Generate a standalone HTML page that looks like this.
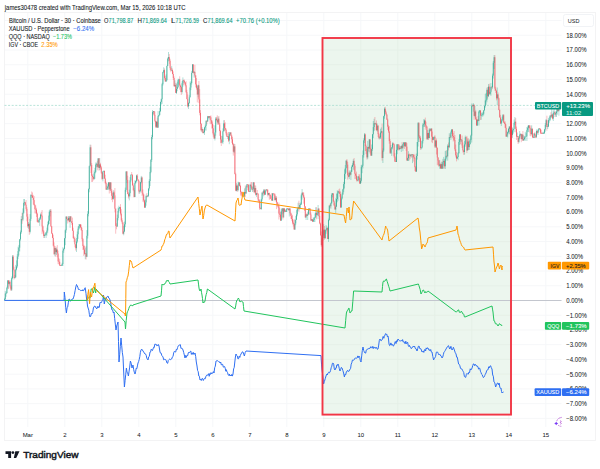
<!DOCTYPE html><html><head><meta charset="utf-8"><style>html,body{margin:0;padding:0;background:#fff;width:600px;height:469px;overflow:hidden}svg{display:block}text{font-family:"Liberation Sans",sans-serif}</style></head><body>
<svg width="600" height="469" viewBox="0 0 600 469">
<rect width="600" height="469" fill="#ffffff"/>
<path d="M4.5 418.38H561.5M4.5 403.64H561.5M4.5 388.91H561.5M4.5 374.18H561.5M4.5 359.44H561.5M4.5 344.70H561.5M4.5 329.97H561.5M4.5 315.24H561.5M4.5 300.50H561.5M4.5 285.76H561.5M4.5 271.03H561.5M4.5 256.30H561.5M4.5 241.56H561.5M4.5 226.82H561.5M4.5 212.09H561.5M4.5 197.36H561.5M4.5 182.62H561.5M4.5 167.88H561.5M4.5 153.15H561.5M4.5 138.42H561.5M4.5 123.68H561.5M4.5 108.94H561.5M4.5 94.21H561.5M4.5 79.48H561.5M4.5 64.74H561.5M4.5 50.00H561.5M4.5 35.27H561.5M4.5 20.54H561.5M27.80 12.5V427M64.80 12.5V427M101.80 12.5V427M138.80 12.5V427M175.80 12.5V427M212.80 12.5V427M249.80 12.5V427M286.80 12.5V427M323.80 12.5V427M360.80 12.5V427M397.80 12.5V427M434.80 12.5V427M471.80 12.5V427M508.80 12.5V427M545.80 12.5V427" stroke="#f6f7f9" stroke-width="1" fill="none"/>
<rect x="4.5" y="12.5" width="591" height="428" fill="none" stroke="#f2f2f3" stroke-width="0.9"/>
<rect x="322" y="37" width="190" height="378" fill="#ecf6ee"/>
<path d="M323 418.38H511M323 403.64H511M323 388.91H511M323 374.18H511M323 359.44H511M323 344.70H511M323 329.97H511M323 315.24H511M323 300.50H511M323 285.76H511M323 271.03H511M323 256.30H511M323 241.56H511M323 226.82H511M323 212.09H511M323 197.36H511M323 182.62H511M323 167.88H511M323 153.15H511M323 138.42H511M323 123.68H511M323 108.94H511M323 94.21H511M323 79.48H511M323 64.74H511M323 50.00H511M360.80 38V414M397.80 38V414M434.80 38V414M471.80 38V414" stroke="#e5efe7" stroke-width="0.9" fill="none"/>
<path d="M4.5 300.5H561.5" stroke="#c3c6ce" stroke-width="1"/>
<path d="M4.5 105.4H561.5" stroke="#a6dccf" stroke-width="0.8" stroke-dasharray="2,1.6"/>
<path d="M4.50 297.7V300.7M5.30 290.9V299.9M6.10 291.7V296.8M6.90 286.6V293.6M7.70 280.0V289.3M9.30 280.3V284.7M11.70 276.5V291.0M12.50 255.0V279.2M14.90 274.9V278.7M15.70 264.9V277.5M16.50 260.4V270.3M17.30 254.1V267.9M18.10 246.7V259.1M18.90 244.9V255.4M19.70 239.0V251.6M20.50 230.5V240.7M21.30 216.1V233.9M22.90 208.4V221.2M23.70 199.0V213.8M24.50 199.0V205.7M28.50 222.0V228.8M30.10 214.1V233.5M30.90 194.0V220.9M38.90 218.1V222.3M39.70 216.9V225.9M40.50 213.4V219.7M44.50 233.8V238.0M45.30 233.1V235.6M46.10 232.0V238.0M46.90 227.6V235.7M47.70 221.6V233.2M48.50 215.6V225.5M49.30 210.2V224.0M50.10 209.0V216.4M54.90 247.7V256.3M56.50 247.6V255.0M61.30 265.2V266.0M62.10 262.8V266.0M62.90 247.2V266.0M63.70 248.3V252.8M64.50 238.0V249.2M65.30 229.5V245.2M66.10 216.0V232.8M68.50 216.0V220.0M70.10 216.0V227.8M76.50 238.0V252.0M77.30 231.5V243.2M78.10 226.4V238.9M78.90 224.0V229.8M79.70 224.0V228.2M85.30 247.6V259.2M86.90 230.1V257.1M87.70 211.1V238.5M88.50 188.4V216.3M89.30 165.6V192.3M90.10 144.6V166.5M94.10 170.4V179.9M94.90 167.9V178.9M95.70 162.5V172.8M96.50 162.7V167.4M98.10 158.0V168.0M99.70 158.0V170.2M102.90 171.2V181.4M103.70 170.8V171.7M106.90 185.5V190.0M107.70 183.7V190.0M108.50 182.0V189.6M110.10 182.0V190.9M113.30 190.2V199.8M117.30 214.6V227.0M118.10 207.5V220.4M118.90 205.7V212.5M119.70 207.1V209.0M123.70 225.9V235.3M124.50 221.6V232.0M125.30 187.6V227.1M126.10 171.3V191.8M129.30 189.7V200.4M130.10 177.1V196.5M130.90 174.6V181.8M134.90 180.3V197.1M135.70 180.4V183.7M136.50 174.8V182.0M139.70 189.7V193.7M140.50 181.8V192.3M141.30 175.9V183.4M145.30 199.6V208.0M146.10 194.6V205.7M147.70 195.0V196.6M148.50 188.4V196.8M149.30 179.2V190.6M150.10 166.6V186.0M150.90 159.0V173.2M151.70 134.9V161.9M152.50 110.0V139.2M153.30 111.1V114.1M156.50 121.6V128.0M158.10 111.1V128.0M158.90 114.9V116.9M159.70 107.8V115.2M160.50 101.7V112.0M161.30 98.5V104.6M162.10 82.8V103.9M162.90 71.7V85.6M163.70 67.3V73.1M166.10 74.4V82.0M166.90 65.5V81.2M167.70 57.5V66.1M168.50 52.0V61.3M171.70 65.9V70.7M174.90 80.3V87.1M176.50 83.6V94.0M177.30 81.7V91.2M178.10 78.7V88.0M178.90 78.8V84.5M182.10 81.2V93.6M182.90 77.4V86.7M188.50 102.4V109.0M189.30 95.3V104.1M190.10 81.6V97.4M190.90 81.4V90.2M191.70 70.9V84.5M192.50 64.0V72.8M194.10 71.0V77.7M198.10 84.6V97.3M202.10 127.2V132.4M203.70 130.8V133.4M204.50 127.0V135.0M205.30 124.5V130.4M206.10 120.1V130.6M207.70 115.9V121.5M209.30 116.0V119.6M214.90 125.3V140.5M215.70 117.1V135.7M218.10 116.6V124.2M222.10 136.1V142.7M222.90 128.4V144.1M223.70 120.2V131.6M227.70 136.2V139.0M229.30 132.0V144.2M230.10 132.4V135.7M234.10 143.8V153.0M236.50 183.2V191.3M238.10 181.6V191.4M238.90 182.0V185.9M243.70 193.2V197.0M244.50 188.4V197.0M246.10 185.9V193.8M246.90 184.0V187.6M250.10 184.0V192.0M252.50 186.7V192.0M253.30 182.0V190.4M254.90 185.3V193.4M256.50 192.8V196.9M261.30 198.6V210.0M262.10 191.9V201.2M263.70 189.0V196.4M265.30 190.4V195.0M266.10 189.0V191.0M268.50 193.1V195.5M272.50 193.0V201.0M275.70 195.9V201.4M281.30 209.2V221.0M282.10 208.0V214.3M283.70 208.0V213.3M286.10 209.0V212.0M286.90 208.0V212.0M289.30 208.0V216.5M294.90 219.9V230.0M295.70 215.9V225.3M296.50 210.1V220.0M297.30 207.8V216.3M298.10 202.7V210.7M299.70 203.2V209.5M300.50 202.5V208.8M301.30 193.7V205.0M302.10 189.0V199.6M306.10 214.2V220.0M307.70 211.8V220.0M308.50 208.0V214.9M309.30 208.0V210.4M311.70 219.0V220.8M313.30 217.3V222.0M314.10 217.7V222.0M314.90 213.5V222.0M315.70 207.2V218.0M317.30 211.1V215.9M318.10 205.0V219.2M322.10 234.6V246.7M322.90 231.3V240.9M323.70 224.1V237.9M325.30 229.5V238.7M326.10 225.1V233.8M326.90 226.4V231.4M328.50 218.6V241.9M329.30 205.3V220.9M330.90 202.4V208.7M331.70 193.0V203.8M332.50 193.0V197.3M335.70 198.3V213.0M336.50 193.7V206.9M337.30 190.3V202.3M338.10 190.8V200.7M341.30 196.6V208.0M342.10 192.6V199.5M342.90 188.8V194.8M343.70 181.9V192.2M344.50 169.4V188.4M345.30 165.0V178.9M346.10 160.5V172.7M349.30 170.4V179.1M350.90 170.1V180.0M351.70 165.4V171.9M352.50 163.2V167.1M353.30 159.2V169.7M358.10 176.0V181.8M360.50 178.1V184.0M361.30 164.9V182.7M362.10 164.7V173.2M362.90 150.5V168.5M363.70 138.3V157.6M364.50 133.0V143.0M367.70 140.9V159.2M369.30 139.0V152.2M371.70 144.5V156.0M372.50 134.0V150.9M373.30 121.0V138.2M374.10 118.8V131.1M375.70 122.8V124.6M377.30 123.5V131.7M379.70 135.9V139.4M380.50 128.8V139.0M381.30 127.4V133.3M382.90 148.3V163.0M383.70 115.7V152.1M384.50 107.3V118.7M390.90 145.0V154.0M391.70 147.1V155.9M392.50 142.3V149.3M396.50 144.3V162.0M397.30 144.0V154.2M399.70 146.2V150.3M401.30 145.6V152.0M402.90 143.6V151.2M403.70 142.0V146.6M405.30 142.0V146.9M407.70 157.7V161.0M408.50 151.2V161.0M410.90 154.0V157.2M412.50 154.4V163.1M416.50 153.6V172.0M417.30 142.0V159.6M418.10 122.0V146.5M421.30 147.4V149.5M422.10 140.4V148.5M422.90 123.0V143.5M423.70 119.2V126.8M424.50 119.4V126.9M427.70 130.1V140.0M429.30 128.0V138.4M430.90 128.3V131.0M433.30 136.9V140.3M434.10 136.6V139.2M435.70 140.3V147.9M439.70 159.9V168.8M441.30 162.1V169.0M442.90 158.9V169.0M443.70 156.9V165.6M445.30 151.0V169.0M446.10 150.4V160.6M447.70 144.2V160.7M449.30 133.2V148.1M450.90 130.6V140.0M451.70 129.0V133.9M457.30 156.5V158.7M458.10 152.3V160.2M458.90 139.1V153.5M459.70 134.0V145.0M461.30 139.0V142.1M464.50 141.1V154.7M465.30 135.6V146.7M467.70 139.4V150.0M469.30 140.8V150.0M470.10 138.9V144.6M470.90 134.7V140.2M471.70 103.5V142.6M473.30 103.0V111.7M474.90 105.7V117.3M477.30 119.5V126.0M478.90 110.5V125.5M479.70 110.0V113.2M481.30 112.8V119.8M482.10 112.5V116.7M482.90 112.2V116.4M483.70 110.2V115.4M484.50 105.7V110.7M485.30 93.9V107.7M486.10 92.9V104.8M486.90 87.7V102.3M488.50 84.1V97.0M490.10 91.9V94.8M490.90 83.1V95.8M492.50 73.6V88.8M493.30 61.0V78.6M494.10 55.0V69.0M497.30 87.5V105.2M501.30 118.9V126.0M502.10 116.7V122.5M502.90 114.0V120.4M506.90 130.7V136.8M507.70 131.8V137.5M508.50 128.0V133.1M509.30 126.0V134.0M512.50 127.5V137.9M513.30 128.8V133.7M514.10 119.5V132.2M514.90 117.0V124.9M517.30 132.5V137.0M518.90 137.5V143.2M519.70 131.0V139.4M520.50 133.4V136.4M522.10 134.1V140.3M523.70 135.4V140.6M524.50 136.0V140.3M525.30 131.8V140.8M526.10 133.2V136.8M526.90 127.0V141.0M527.70 125.7V132.2M528.50 125.0V132.1M531.70 125.2V135.3M534.10 133.3V138.0M536.50 129.5V136.3M538.10 128.9V135.0M538.90 128.0V131.6M542.90 131.8V134.0M543.70 131.8V134.0M544.50 128.9V134.0M545.30 123.0V131.7M546.10 119.0V126.8M547.70 123.9V129.0M548.50 118.1V127.1M549.30 116.7V122.8M550.10 115.3V121.1M551.70 108.0V118.1M553.30 110.6V121.0M554.10 108.0V114.8M555.70 111.6V116.7M556.50 108.0V117.0M557.30 108.0V114.7M558.90 108.0V115.7" stroke="#089981" stroke-width="0.5" fill="none" stroke-opacity="0.62"/>
<path d="M8.50 280.0V289.0M10.10 280.2V288.4M10.90 285.3V291.0M13.30 255.0V270.4M14.10 266.7V279.5M22.10 212.9V223.8M25.30 201.8V205.5M26.10 200.0V210.7M26.90 207.2V221.3M27.70 213.8V227.9M29.30 223.4V234.9M31.70 191.5V197.6M32.50 192.5V197.8M33.30 194.9V204.5M34.10 196.0V205.5M34.90 204.2V213.4M35.70 205.4V213.5M36.50 207.8V217.0M37.30 212.6V222.2M38.10 220.1V222.8M41.30 211.9V216.6M42.10 210.0V234.1M42.90 225.6V232.6M43.70 230.1V238.0M50.90 209.0V226.9M51.70 225.9V234.1M52.50 233.1V238.2M53.30 234.7V246.6M54.10 242.3V254.7M55.70 246.2V256.7M57.30 245.1V257.3M58.10 250.7V264.2M58.90 257.9V264.2M59.70 259.2V266.0M60.50 265.0V266.0M66.90 216.0V219.0M67.70 218.7V223.5M69.30 216.0V222.4M70.90 216.0V221.2M71.70 221.1V224.8M72.50 217.6V230.8M73.30 227.7V238.6M74.10 236.3V242.2M74.90 237.2V247.3M75.70 244.2V250.6M80.50 224.0V228.0M81.30 224.5V230.9M82.10 227.7V241.3M82.90 238.1V250.0M83.70 244.7V255.9M84.50 245.7V254.8M86.10 246.2V259.5M90.90 144.8V173.0M91.70 163.1V182.0M92.50 174.3V181.9M93.30 176.7V180.5M97.30 160.8V170.3M98.90 158.0V170.6M100.50 162.8V169.5M101.30 165.9V173.9M102.10 172.1V179.9M104.50 170.8V179.0M105.30 174.7V184.2M106.10 181.6V190.0M109.30 182.0V193.5M110.90 182.0V192.9M111.70 189.0V200.0M112.50 192.8V202.2M114.10 190.6V198.1M114.90 188.0V212.4M115.70 208.4V233.7M116.50 223.3V229.3M120.50 204.1V215.4M121.30 209.2V221.6M122.10 218.3V224.1M122.90 222.3V234.4M126.90 171.0V183.1M127.70 175.7V194.2M128.50 192.2V198.5M131.70 172.0V175.2M132.50 174.2V185.6M133.30 183.3V191.2M134.10 188.1V197.5M137.30 174.0V179.6M138.10 179.0V181.3M138.90 180.3V193.7M142.10 176.6V196.0M142.90 189.4V201.8M143.70 193.9V202.4M144.50 199.6V208.0M146.90 193.0V197.3M154.10 111.0V115.8M154.90 111.5V122.3M155.70 120.8V128.0M157.30 117.6V128.0M164.50 68.5V79.6M165.30 75.8V81.5M169.30 54.0V63.9M170.10 58.8V70.1M170.90 67.2V72.2M172.50 68.5V74.3M173.30 71.4V80.0M174.10 76.4V86.6M175.70 82.9V92.9M179.70 76.3V89.7M180.50 84.6V92.2M181.30 86.4V95.0M183.70 79.7V85.1M184.50 79.6V83.8M185.30 82.1V86.4M186.10 81.1V93.2M186.90 89.8V99.3M187.70 94.5V107.5M193.30 64.0V73.6M194.90 64.8V77.4M195.70 75.0V87.4M196.50 78.0V89.6M197.30 85.9V102.4M198.90 81.0V103.1M199.70 89.1V115.3M200.50 110.1V130.3M201.30 123.1V131.9M202.90 128.9V133.5M206.90 120.1V124.3M208.50 116.2V118.4M210.10 116.1V123.7M210.90 115.3V124.3M211.70 120.0V128.5M212.50 121.5V133.3M213.30 124.6V136.7M214.10 134.3V138.9M216.50 116.9V120.8M217.30 115.3V124.8M218.90 116.1V124.7M219.70 122.9V135.9M220.50 130.0V143.2M221.30 135.7V146.0M224.50 120.1V131.2M225.30 122.3V130.5M226.10 128.4V135.4M226.90 132.1V136.9M228.50 132.0V142.0M230.90 132.0V135.7M231.70 134.7V142.9M232.50 136.9V144.9M233.30 142.9V155.6M234.90 144.0V174.4M235.70 172.7V191.2M237.30 184.3V191.8M239.70 182.0V186.7M240.50 184.9V195.5M241.30 191.3V196.6M242.10 192.7V196.4M242.90 191.5V197.0M245.30 185.4V197.0M247.70 184.0V190.2M248.50 184.0V191.9M249.30 191.1V192.0M250.90 182.2V187.7M251.70 182.0V190.3M254.10 182.0V193.1M255.70 185.6V195.6M257.30 190.0V194.7M258.10 193.1V202.3M258.90 199.0V202.7M259.70 200.0V210.0M260.50 207.5V209.0M262.90 191.1V195.2M264.50 189.0V195.2M266.90 189.3V192.2M267.70 189.0V196.5M269.30 192.6V199.8M270.10 194.6V199.1M270.90 194.7V199.2M271.70 193.0V201.0M273.30 193.1V195.6M274.10 193.0V201.2M274.90 193.4V200.0M276.50 196.2V209.1M277.30 201.7V206.8M278.10 204.4V208.1M278.90 202.5V219.5M279.70 207.8V217.2M280.50 211.9V221.0M282.90 208.0V219.5M284.50 208.3V212.0M285.30 209.8V212.0M287.70 208.0V209.1M288.50 208.0V210.5M290.10 208.0V214.7M290.90 212.6V218.8M291.70 213.8V220.8M292.50 215.1V224.4M293.30 220.2V226.5M294.10 218.8V229.6M298.90 200.7V211.8M302.90 192.0V196.6M303.70 192.5V203.7M304.50 196.7V211.0M305.30 206.2V217.6M306.90 213.0V215.9M310.10 208.0V215.0M310.90 212.5V221.1M312.50 219.1V222.0M316.50 207.2V219.3M318.90 208.2V216.5M319.70 211.7V224.4M320.50 222.6V235.5M321.30 231.4V246.7M324.50 226.0V239.8M327.70 227.3V239.1M330.10 203.8V208.1M333.30 193.0V201.9M334.10 200.4V206.0M334.90 203.2V209.5M338.90 189.3V192.9M339.70 188.5V196.7M340.50 191.4V208.0M346.90 159.0V167.8M347.70 162.0V179.6M348.50 172.6V177.3M350.10 171.3V175.6M354.10 158.0V170.4M354.90 164.1V179.1M355.70 173.4V178.8M356.50 171.6V181.5M357.30 179.3V181.1M358.90 174.2V180.1M359.70 174.4V184.0M365.30 133.5V150.9M366.10 144.6V154.1M366.90 149.0V159.5M368.50 146.6V151.5M370.10 139.0V153.5M370.90 147.7V156.0M374.90 117.0V130.2M376.50 120.5V130.6M378.10 124.9V137.0M378.90 132.8V139.2M382.10 123.5V160.6M385.30 106.8V114.1M386.10 110.7V115.4M386.90 114.4V120.0M387.70 118.5V129.9M388.50 124.8V132.9M389.30 126.1V143.7M390.10 139.1V154.0M393.30 142.5V144.9M394.10 143.4V157.6M394.90 153.2V162.0M395.70 157.4V162.0M398.10 144.0V150.8M398.90 144.0V150.0M400.50 146.2V148.9M402.10 142.0V148.6M404.50 142.2V148.9M406.10 142.0V150.8M406.90 143.2V160.7M409.30 153.5V160.5M410.10 154.6V159.2M411.70 154.0V157.7M413.30 154.0V161.6M414.10 154.9V158.9M414.90 154.2V171.1M415.70 166.0V172.0M418.90 122.0V139.6M419.70 135.1V142.0M420.50 136.3V149.8M425.30 117.6V129.7M426.10 121.7V127.9M426.90 126.2V140.0M428.50 132.7V140.0M430.10 128.8V131.9M431.70 128.4V142.3M432.50 131.5V143.1M434.90 135.2V148.0M436.50 138.5V154.5M437.30 147.5V165.3M438.10 157.1V164.8M438.90 160.0V166.9M440.50 163.4V168.6M442.10 160.8V169.0M444.50 159.1V168.6M446.90 150.2V157.1M448.50 142.5V150.4M450.10 134.6V137.5M452.50 129.0V138.2M453.30 132.8V141.5M454.10 131.0V140.8M454.90 135.0V151.1M455.70 144.6V157.4M456.50 151.9V161.4M460.50 134.0V144.2M462.10 135.5V148.0M462.90 142.5V152.5M463.70 149.7V154.9M466.10 136.7V137.9M466.90 135.9V153.0M468.50 138.4V150.0M472.50 104.7V106.7M474.10 104.6V119.8M475.70 109.9V119.8M476.50 117.3V125.6M478.10 115.9V121.4M480.50 110.3V120.0M487.70 87.0V98.5M489.30 83.7V94.9M491.70 86.5V90.4M494.90 55.0V90.8M495.70 86.8V93.0M496.50 90.5V100.4M498.10 92.4V99.7M498.90 97.6V110.3M499.70 109.4V117.5M500.50 114.9V123.7M503.70 114.0V123.1M504.50 121.5V124.2M505.30 121.4V128.1M506.10 124.3V137.0M510.10 126.7V134.8M510.90 130.2V135.5M511.70 128.6V136.2M515.70 118.1V132.3M516.50 126.6V140.0M518.10 136.0V144.0M521.30 133.5V142.2M522.90 131.0V141.0M529.30 125.0V128.4M530.10 125.0V135.9M530.90 126.3V136.4M532.50 128.9V137.5M533.30 135.6V138.0M534.90 131.9V135.6M535.70 134.4V138.0M537.30 130.5V134.3M539.70 128.0V129.6M540.50 128.5V134.0M541.30 129.7V134.0M542.10 132.5V134.0M546.90 115.7V130.7M550.90 112.2V117.8M552.50 113.9V119.5M554.90 111.0V117.0M558.10 108.0V111.4" stroke="#f23645" stroke-width="0.5" fill="none" stroke-opacity="0.62"/>
<path d="M4.50 299.2V300.0M5.30 293.7V299.2M6.10 293.0V293.7M6.90 287.7V293.0M7.70 280.5V287.7M9.30 281.8V283.8M11.70 278.2V289.7M12.50 256.6V278.2M14.90 277.4V278.0M15.70 269.4V277.4M16.50 266.4V269.4M17.30 256.6V266.4M18.10 251.1V256.6M18.90 247.7V251.1M19.70 239.3V247.7M20.50 232.3V239.3M21.30 219.0V232.3M22.90 212.7V219.5M23.70 202.8V212.7M24.50 202.3V202.8M28.50 223.9V226.3M30.10 218.9V231.8M30.90 195.0V218.9M38.90 219.8V222.3M39.70 218.6V219.8M40.50 214.6V218.6M44.50 235.3V236.0M45.30 234.8V235.3M46.10 232.2V234.8M46.90 230.6V232.2M47.70 224.4V230.6M48.50 220.7V224.4M49.30 212.1V220.7M50.10 210.7V212.1M54.90 248.1V254.2M56.50 249.5V252.1M61.30 265.5V266.0M62.10 264.0V265.5M62.90 250.6V264.0M63.70 248.8V250.6M64.50 238.3V248.8M65.30 230.3V238.3M66.10 216.8V230.3M68.50 217.8V220.5M70.10 216.5V221.9M76.50 241.5V248.2M77.30 234.3V241.5M78.10 228.7V234.3M78.90 226.2V228.7M79.70 224.5V226.2M85.30 253.4V253.9M86.90 235.8V256.7M87.70 213.8V235.8M88.50 189.2V213.8M89.30 166.2V189.2M90.10 147.3V166.2M94.10 173.5V178.9M94.90 171.9V173.5M95.70 164.5V171.9M96.50 163.9V164.5M98.10 158.5V166.8M99.70 164.4V168.0M102.90 171.4V178.9M103.70 170.8V171.4M106.90 188.4V189.5M107.70 186.5V188.4M108.50 182.5V186.5M110.10 182.5V189.4M113.30 192.4V198.9M117.30 218.1V226.4M118.10 210.9V218.1M118.90 208.3V210.9M119.70 207.2V208.3M123.70 231.4V233.7M124.50 224.3V231.4M125.30 189.9V224.3M126.10 171.5V189.9M129.30 193.2V196.4M130.10 180.3V193.2M130.90 174.6V180.3M134.90 183.2V197.0M135.70 181.0V183.2M136.50 175.5V181.0M139.70 190.8V191.5M140.50 182.2V190.8M141.30 177.5V182.2M145.30 202.4V207.5M146.10 196.1V202.4M147.70 195.7V196.6M148.50 188.5V195.7M149.30 181.0V188.5M150.10 171.9V181.0M150.90 159.9V171.9M151.70 137.0V159.9M152.50 112.1V137.0M153.30 111.1V112.1M156.50 121.7V126.8M158.10 116.0V127.5M158.90 115.1V116.0M159.70 111.1V115.1M160.50 101.9V111.1M161.30 99.2V101.9M162.10 84.2V99.2M162.90 72.1V84.2M163.70 70.1V72.1M166.10 80.0V81.5M166.90 66.0V80.0M167.70 58.6V66.0M168.50 57.1V58.6M171.70 70.1V70.6M174.90 84.9V86.2M176.50 89.0V92.9M177.30 86.9V89.0M178.10 80.0V86.9M178.90 79.4V80.0M182.10 83.2V92.0M182.90 80.4V83.2M188.50 103.0V106.4M189.30 97.3V103.0M190.10 87.5V97.3M190.90 83.0V87.5M191.70 72.8V83.0M192.50 64.5V72.8M194.10 71.9V72.7M198.10 85.3V94.5M202.10 129.1V130.4M203.70 132.2V133.0M204.50 127.5V132.2M205.30 125.9V127.5M206.10 121.1V125.9M207.70 116.3V121.6M209.30 116.3V117.6M214.90 132.5V138.5M215.70 118.6V132.5M218.10 118.7V122.5M222.10 142.1V142.6M222.90 131.3V142.1M223.70 123.4V131.3M227.70 136.3V136.8M229.30 134.1V140.6M230.10 132.5V134.1M234.10 146.4V151.7M236.50 185.6V190.7M238.10 185.7V190.2M238.90 182.6V185.7M243.70 195.8V196.3M244.50 192.0V195.8M246.10 187.4V193.5M246.90 184.5V187.4M250.10 184.8V192.0M252.50 188.9V189.4M253.30 182.5V188.9M254.90 188.0V192.1M256.50 193.3V194.8M261.30 199.4V209.0M262.10 192.8V199.4M263.70 190.4V193.3M265.30 190.5V194.6M266.10 189.5V190.5M268.50 193.1V194.7M272.50 193.5V200.5M275.70 197.8V200.0M281.30 211.3V220.5M282.10 208.5V211.3M283.70 208.5V217.5M286.10 210.0V212.0M286.90 208.5V210.0M289.30 208.6V210.2M294.90 223.4V229.5M295.70 219.7V223.4M296.50 214.4V219.7M297.30 208.8V214.4M298.10 207.2V208.8M299.70 205.0V208.3M300.50 204.4V205.0M301.30 195.3V204.4M302.10 192.7V195.3M306.10 214.4V217.5M307.70 214.3V215.8M308.50 209.4V214.3M309.30 208.7V209.4M311.70 219.4V220.6M313.30 219.9V221.5M314.10 218.2V219.9M314.90 216.9V218.2M315.70 212.8V216.9M317.30 213.4V214.8M318.10 208.6V213.4M322.10 238.2V245.1M322.90 235.5V238.2M323.70 229.7V235.5M325.30 230.1V238.2M326.10 229.6V230.1M326.90 228.1V229.6M328.50 220.0V239.0M329.30 205.6V220.0M330.90 203.2V206.2M331.70 194.6V203.2M332.50 193.5V194.6M335.70 206.6V209.5M336.50 199.1V206.6M337.30 193.5V199.1M338.10 191.3V193.5M341.30 198.5V207.3M342.10 194.4V198.5M342.90 189.4V194.4M343.70 184.1V189.4M344.50 173.9V184.1M345.30 168.3V173.9M346.10 160.6V168.3M349.30 172.7V176.7M350.90 171.8V174.7M351.70 166.8V171.8M352.50 164.9V166.8M353.30 160.9V164.9M358.10 176.5V180.6M360.50 180.8V183.5M361.30 167.1V180.8M362.10 165.7V167.1M362.90 155.1V165.7M363.70 140.4V155.1M364.50 134.4V140.4M367.70 147.1V157.4M369.30 139.5V148.5M371.70 149.1V155.5M372.50 134.3V149.1M373.30 127.1V134.3M374.10 123.2V127.1M375.70 123.6V124.2M377.30 125.7V130.3M379.70 137.5V138.1M380.50 132.6V137.5M381.30 131.2V132.6M382.90 150.6V158.0M383.70 116.2V150.6M384.50 108.7V116.2M390.90 148.6V152.8M391.70 147.5V148.6M392.50 143.5V147.5M396.50 149.9V162.0M397.30 144.5V149.9M399.70 147.9V149.2M401.30 145.8V148.5M402.90 144.4V148.3M403.70 142.5V144.4M405.30 142.5V146.2M407.70 158.1V160.5M408.50 154.4V158.1M410.90 154.5V156.1M412.50 154.5V155.0M416.50 156.0V171.5M417.30 142.0V156.0M418.10 123.1V142.0M421.30 147.5V148.1M422.10 141.1V147.5M422.90 124.6V141.1M423.70 123.9V124.6M424.50 120.5V123.9M427.70 133.0V138.8M429.30 129.5V138.0M430.90 128.6V130.6M433.30 137.3V139.9M434.10 136.8V137.3M435.70 140.5V146.6M439.70 164.4V165.8M441.30 164.1V168.5M442.90 162.2V168.5M443.70 160.9V162.2M445.30 158.6V166.3M446.10 155.8V158.6M447.70 145.7V156.3M449.30 137.0V147.2M450.90 132.4V137.5M451.70 129.5V132.4M457.30 157.0V158.6M458.10 153.2V157.0M458.90 142.0V153.2M459.70 134.5V142.0M461.30 139.7V140.2M464.50 144.4V152.0M465.30 137.3V144.4M467.70 141.5V150.6M469.30 144.1V147.1M470.10 139.7V144.1M470.90 135.6V139.7M471.70 105.6V135.6M473.30 104.7V106.1M474.90 111.5V115.9M477.30 119.6V125.5M478.90 111.6V120.9M479.70 110.5V111.6M481.30 115.1V115.6M482.10 114.6V115.1M482.90 113.7V114.6M483.70 110.3V113.7M484.50 106.1V110.3M485.30 100.6V106.1M486.10 99.8V100.6M486.90 89.8V99.8M488.50 86.7V96.2M490.10 92.1V93.8M490.90 86.8V92.1M492.50 75.6V87.3M493.30 62.8V75.6M494.10 57.2V62.8M497.30 94.4V98.3M501.30 120.7V123.6M502.10 119.7V120.7M502.90 115.2V119.7M506.90 134.4V136.5M507.70 132.1V134.4M508.50 129.0V132.1M509.30 126.7V129.0M512.50 130.3V134.9M513.30 128.9V130.3M514.10 122.9V128.9M514.90 121.7V122.9M517.30 136.1V136.6M518.90 138.1V141.9M519.70 134.5V138.1M520.50 134.0V134.5M522.10 134.5V139.0M523.70 139.0V140.5M524.50 137.5V139.0M525.30 136.8V137.5M526.10 136.3V136.8M526.90 130.2V136.3M527.70 127.7V130.2M528.50 125.5V127.7M531.70 128.6V134.1M534.10 133.5V138.0M536.50 131.1V137.5M538.10 129.9V132.8M538.90 128.5V129.9M542.90 133.5V134.0M543.70 132.9V133.5M544.50 129.5V132.9M545.30 124.9V129.5M546.10 120.2V124.9M547.70 126.5V127.0M548.50 120.2V126.5M549.30 119.7V120.2M550.10 115.5V119.7M551.70 114.6V116.6M553.30 113.0V118.6M554.10 112.3V113.0M555.70 113.2V114.5M556.50 111.5V113.2M557.30 108.9V111.5M558.90 108.5V111.2" stroke="#089981" stroke-width="0.95" fill="none" stroke-opacity="0.62"/>
<path d="M8.50 280.5V283.8M10.10 281.8V286.4M10.90 286.4V289.7M13.30 256.6V269.6M14.10 269.6V278.0M22.10 219.0V219.5M25.30 202.3V204.7M26.10 204.7V208.9M26.90 208.9V216.6M27.70 216.6V226.3M29.30 223.9V231.8M31.70 195.0V195.6M32.50 195.6V197.8M33.30 197.8V200.1M34.10 200.1V205.1M34.90 205.1V209.2M35.70 209.2V209.7M36.50 209.7V213.6M37.30 213.6V221.8M38.10 221.8V222.3M41.30 214.6V215.6M42.10 215.6V226.4M42.90 226.4V231.4M43.70 231.4V236.0M50.90 210.7V226.3M51.70 226.3V233.5M52.50 233.5V237.9M53.30 237.9V245.7M54.10 245.7V254.2M55.70 248.1V252.1M57.30 249.5V253.5M58.10 253.5V261.4M58.90 261.4V261.9M59.70 261.9V265.5M60.50 265.5V266.0M66.90 216.8V219.0M67.70 219.0V220.5M69.30 217.8V221.9M70.90 216.5V221.2M71.70 221.2V223.0M72.50 223.0V230.7M73.30 230.7V238.0M74.10 238.0V239.0M74.90 239.0V244.3M75.70 244.3V248.2M80.50 224.5V227.2M81.30 227.2V230.0M82.10 230.0V239.1M82.90 239.1V246.0M83.70 246.0V249.6M84.50 249.6V253.9M86.10 253.4V256.7M90.90 147.3V165.0M91.70 165.0V175.8M92.50 175.8V176.9M93.30 176.9V178.9M97.30 163.9V166.8M98.90 158.5V168.0M100.50 164.4V167.3M101.30 167.3V172.7M102.10 172.7V178.9M104.50 170.8V178.5M105.30 178.5V182.9M106.10 182.9V189.5M109.30 182.5V189.4M110.90 182.5V190.8M111.70 190.8V195.8M112.50 195.8V198.9M114.10 192.4V195.4M114.90 195.4V208.7M115.70 208.7V225.9M116.50 225.9V226.4M120.50 207.2V213.6M121.30 213.6V220.3M122.10 220.3V222.4M122.90 222.4V233.7M126.90 171.5V179.9M127.70 179.9V194.1M128.50 194.1V196.4M131.70 174.6V175.1M132.50 175.1V185.4M133.30 185.4V190.1M134.10 190.1V197.0M137.30 175.5V179.5M138.10 179.5V181.1M138.90 181.1V191.5M142.10 177.5V192.7M142.90 192.7V194.6M143.70 194.6V200.5M144.50 200.5V207.5M146.90 196.1V196.6M154.10 111.1V114.9M154.90 114.9V120.8M155.70 120.8V126.8M157.30 121.7V127.5M164.50 70.1V77.9M165.30 77.9V81.5M169.30 57.1V60.7M170.10 60.7V68.1M170.90 68.1V70.6M172.50 70.1V74.0M173.30 74.0V78.0M174.10 78.0V86.2M175.70 84.9V92.9M179.70 79.4V85.6M180.50 85.6V87.2M181.30 87.2V92.0M183.70 80.4V81.2M184.50 81.2V82.4M185.30 82.4V85.3M186.10 85.3V92.1M186.90 92.1V99.1M187.70 99.1V106.4M193.30 64.5V72.7M194.90 71.9V75.5M195.70 75.5V84.4M196.50 84.4V87.8M197.30 87.8V94.5M198.90 85.3V99.4M199.70 99.4V112.9M200.50 112.9V123.9M201.30 123.9V130.4M202.90 129.1V133.0M206.90 121.1V121.6M208.50 116.3V117.6M210.10 116.3V117.3M210.90 117.3V120.3M211.70 120.3V123.7M212.50 123.7V128.3M213.30 128.3V134.6M214.10 134.6V138.5M216.50 118.6V120.0M217.30 120.0V122.5M218.90 118.7V124.5M219.70 124.5V131.1M220.50 131.1V139.5M221.30 139.5V142.6M224.50 123.4V128.1M225.30 128.1V129.7M226.10 129.7V133.3M226.90 133.3V136.8M228.50 136.3V140.6M230.90 132.5V135.6M231.70 135.6V139.3M232.50 139.3V144.2M233.30 144.2V151.7M234.90 146.4V174.1M235.70 174.1V190.7M237.30 185.6V190.2M239.70 182.6V186.0M240.50 186.0V191.9M241.30 191.9V193.6M242.10 193.6V195.4M242.90 195.4V196.3M245.30 192.0V193.5M247.70 184.5V185.0M248.50 185.0V191.5M249.30 191.5V192.0M250.90 184.8V186.2M251.70 186.2V189.4M254.10 182.5V192.1M255.70 188.0V194.8M257.30 193.3V193.8M258.10 193.8V199.4M258.90 199.4V201.0M259.70 201.0V208.5M260.50 208.5V209.0M262.90 192.8V193.3M264.50 190.4V194.6M266.90 189.5V190.0M267.70 190.0V194.7M269.30 193.1V194.7M270.10 194.7V196.2M270.90 196.2V198.7M271.70 198.7V200.5M273.30 193.5V194.0M274.10 194.0V194.5M274.90 194.5V200.0M276.50 197.8V202.3M277.30 202.3V204.5M278.10 204.5V206.2M278.90 206.2V213.6M279.70 213.6V214.7M280.50 214.7V220.5M282.90 208.5V217.5M284.50 208.5V211.5M285.30 211.5V212.0M287.70 208.5V209.0M288.50 209.0V210.2M290.10 208.6V213.2M290.90 213.2V216.0M291.70 216.0V219.0M292.50 219.0V222.6M293.30 222.6V224.1M294.10 224.1V229.5M298.90 207.2V208.3M302.90 192.7V194.9M303.70 194.9V197.7M304.50 197.7V206.4M305.30 206.4V217.5M306.90 214.4V215.8M310.10 208.7V214.5M310.90 214.5V220.6M312.50 219.4V221.5M316.50 212.8V214.8M318.90 208.6V215.9M319.70 215.9V223.5M320.50 223.5V235.4M321.30 235.4V245.1M324.50 229.7V238.2M327.70 228.1V239.0M330.10 205.6V206.2M333.30 193.5V201.4M334.10 201.4V205.2M334.90 205.2V209.5M338.90 191.3V191.8M339.70 191.8V194.0M340.50 194.0V207.3M346.90 160.6V164.6M347.70 164.6V175.4M348.50 175.4V176.7M350.10 172.7V174.7M354.10 160.9V165.8M354.90 165.8V173.8M355.70 173.8V175.7M356.50 175.7V179.9M357.30 179.9V180.6M358.90 176.5V177.6M359.70 177.6V183.5M365.30 134.4V146.2M366.10 146.2V151.2M366.90 151.2V157.4M368.50 147.1V148.5M370.10 139.5V149.0M370.90 149.0V155.5M374.90 123.2V124.2M376.50 123.6V130.3M378.10 125.7V134.1M378.90 134.1V138.1M382.10 131.2V158.0M385.30 108.7V112.4M386.10 112.4V114.5M386.90 114.5V119.6M387.70 119.6V126.7M388.50 126.7V131.4M389.30 131.4V141.1M390.10 141.1V152.8M393.30 143.5V144.3M394.10 144.3V156.2M394.90 156.2V161.5M395.70 161.5V162.0M398.10 144.5V145.0M398.90 145.0V149.2M400.50 147.9V148.5M402.10 145.8V148.3M404.50 142.5V146.2M406.10 142.5V146.6M406.90 146.6V160.5M409.30 154.4V155.4M410.10 155.4V156.1M411.70 154.5V155.0M413.30 154.5V157.2M414.10 157.2V157.7M414.90 157.7V167.2M415.70 167.2V171.5M418.90 123.1V136.5M419.70 136.5V138.2M420.50 138.2V148.1M425.30 120.5V125.3M426.10 125.3V126.6M426.90 126.6V138.8M428.50 133.0V138.0M430.10 129.5V130.6M431.70 128.6V136.7M432.50 136.7V139.9M434.90 136.8V146.6M436.50 140.5V147.7M437.30 147.7V157.5M438.10 157.5V160.5M438.90 160.5V165.8M440.50 164.4V168.5M442.10 164.1V168.5M444.50 160.9V166.3M446.90 155.8V156.3M448.50 145.7V147.2M450.10 137.0V137.5M452.50 129.5V136.0M453.30 136.0V137.1M454.10 137.1V140.0M454.90 140.0V149.3M455.70 149.3V155.4M456.50 155.4V158.6M460.50 134.5V140.2M462.10 139.7V145.5M462.90 145.5V150.4M463.70 150.4V152.0M466.10 137.3V137.8M466.90 137.8V150.6M468.50 141.5V147.1M472.50 105.6V106.1M474.10 104.7V115.9M475.70 111.5V119.3M476.50 119.3V125.5M478.10 119.6V120.9M480.50 110.5V115.6M487.70 89.8V96.2M489.30 86.7V93.8M491.70 86.8V87.3M494.90 57.2V88.6M495.70 88.6V90.6M496.50 90.6V98.3M498.10 94.4V98.3M498.90 98.3V110.0M499.70 110.0V117.5M500.50 117.5V123.6M503.70 115.2V122.6M504.50 122.6V123.6M505.30 123.6V127.8M506.10 127.8V136.5M510.10 126.7V131.9M510.90 131.9V133.8M511.70 133.8V134.9M515.70 121.7V128.9M516.50 128.9V136.6M518.10 136.1V141.9M521.30 134.0V139.0M522.90 134.5V140.5M529.30 125.5V128.2M530.10 128.2V132.5M530.90 132.5V134.1M532.50 128.6V137.5M533.30 137.5V138.0M534.90 133.5V135.4M535.70 135.4V137.5M537.30 131.1V132.8M539.70 128.5V129.2M540.50 129.2V132.7M541.30 132.7V133.5M542.10 133.5V134.0M546.90 120.2V127.0M550.90 115.5V116.6M552.50 114.6V118.6M554.90 112.3V114.5M558.10 108.9V111.2" stroke="#f23645" stroke-width="0.95" fill="none" stroke-opacity="0.62"/>
<polyline points="4.5,300.4 64.0,300.4 64.2,297.7 64.3,292.0 65.0,297.7 65.7,307.3 66.4,313.0 67.1,307.7 67.7,307.0 68.3,302.8 69.0,299.0 69.7,299.3 70.3,301.3 71.0,300.0 71.7,299.9 72.3,299.0 73.0,299.0 73.7,297.1 74.4,294.5 75.1,290.7 75.8,287.0 76.5,284.5 77.1,285.7 77.8,287.1 78.4,289.4 79.0,290.0 79.6,289.5 80.3,290.0 80.9,290.8 81.6,290.4 82.2,291.0 82.8,289.7 83.4,290.7 84.0,290.3 84.6,288.4 85.2,287.7 86.0,293.6 86.7,300.0 87.1,301.9 87.5,306.0 88.1,308.0 88.8,310.2 89.4,314.5 90.0,317.0 90.7,316.3 91.3,313.5 92.0,314.0 92.7,312.5 93.4,308.0 94.2,306.4 95.0,306.0 95.6,307.6 96.2,308.0 96.8,308.9 97.4,306.5 98.0,308.0 98.6,306.6 99.3,307.3 99.9,303.0 100.5,302.0 101.1,302.8 101.8,301.5 102.4,300.4 103.0,299.2 103.5,295.0 103.9,300.5 104.3,304.0 104.8,301.1 105.4,298.0 106.1,299.3 106.7,297.1 107.3,296.6 108.0,296.0 108.7,298.0 109.3,298.3 110.0,300.0 110.7,302.8 111.3,307.0 112.0,310.0 112.7,310.1 113.3,312.9 114.0,312.0 114.7,318.6 115.3,324.1 116.0,330.0 116.7,325.9 117.3,324.2 118.0,322.0 118.5,341.6 119.0,362.0 119.7,354.2 120.3,346.3 121.0,338.0 121.7,345.7 122.3,352.3 123.0,357.0 123.7,372.0 124.4,387.0 125.1,380.5 125.7,374.8 126.4,368.0 127.1,372.5 127.7,372.8 128.4,376.0 129.1,371.1 129.7,367.1 130.4,361.0 131.2,363.3 132.0,368.0 132.5,365.8 133.0,365.0 133.7,369.7 134.3,372.2 135.0,374.0 135.6,371.8 136.2,368.2 136.8,368.8 137.4,365.9 138.0,363.0 138.6,361.6 139.2,359.6 139.8,356.6 140.4,352.3 141.0,350.0 141.7,349.1 142.3,349.9 143.0,351.0 143.7,352.0 144.3,353.0 145.0,354.0 145.6,354.1 146.2,355.3 146.8,358.1 147.4,359.2 148.0,360.0 148.7,356.8 149.3,356.4 150.0,352.0 150.6,351.9 151.2,349.2 151.8,349.9 152.4,350.6 153.0,349.0 153.6,347.3 154.2,347.7 154.8,344.2 155.4,344.3 156.0,344.0 156.6,345.6 157.2,345.1 157.8,345.8 158.4,344.5 159.0,346.0 159.5,349.0 160.0,352.0 160.6,353.2 161.2,353.2 161.8,355.5 162.4,356.1 163.0,357.0 163.7,359.8 164.3,359.3 165.0,359.7 165.7,359.6 166.3,360.8 167.0,363.0 167.7,363.3 168.3,360.3 169.0,359.6 169.7,359.1 170.3,359.7 171.0,359.0 171.7,359.0 172.3,357.1 173.0,356.6 173.7,352.8 174.3,351.4 175.0,352.0 175.7,352.0 176.3,349.4 177.0,349.8 177.6,347.5 178.3,345.8 178.9,345.2 179.6,345.0 180.3,344.6 181.0,348.5 181.6,348.3 182.3,348.5 183.0,350.0 183.7,352.5 184.3,354.9 185.0,358.0 185.7,355.4 186.3,357.4 187.0,355.3 187.7,355.7 188.3,352.8 189.0,352.0 189.6,352.6 190.2,351.5 190.8,351.0 191.4,354.4 192.0,353.0 192.6,354.3 193.2,352.3 193.8,354.4 194.4,354.1 195.0,353.0 195.7,356.6 196.3,362.0 197.0,366.0 197.6,370.5 198.2,371.6 198.8,376.0 199.4,376.3 200.0,380.0 200.7,379.4 201.3,380.5 202.0,378.5 202.7,378.6 203.3,380.5 204.0,379.0 204.7,378.3 205.3,378.7 206.0,376.1 206.7,375.2 207.3,375.2 208.0,375.0 208.6,373.7 209.2,376.3 209.8,373.6 210.4,374.4 211.0,372.6 211.6,373.9 212.2,373.2 212.8,373.1 213.4,371.6 214.0,373.0 214.7,367.6 215.3,366.2 216.0,361.0 216.7,360.8 217.3,360.7 218.0,360.9 218.7,361.6 219.3,361.7 220.0,363.0 220.7,362.0 221.3,364.9 222.0,364.4 222.7,364.4 223.3,367.1 224.0,367.0 224.6,366.5 225.2,368.2 225.8,371.2 226.4,369.7 227.0,372.0 227.6,372.6 228.2,374.8 228.8,375.5 229.4,374.0 230.0,376.0 230.6,375.1 231.2,376.0 231.8,374.4 232.4,376.1 233.0,374.0 233.6,368.9 234.2,367.6 234.8,362.0 235.4,357.0 236.0,354.0 236.7,355.5 237.3,356.0 238.0,359.0 238.6,358.7 239.2,356.1 239.8,357.4 240.4,355.3 241.0,354.0 241.7,352.9 242.3,351.8 243.0,352.0 243.7,354.4 244.4,356.0 245.2,352.5 246.0,351.0 321.0,355.6 321.5,364.1 322.0,370.0 322.8,375.6 323.6,384.0 324.4,381.4 325.2,378.8 326.0,376.0 326.7,374.2 327.3,375.0 328.0,373.0 328.7,372.3 329.3,372.9 330.0,372.0 330.6,370.4 331.2,367.7 331.8,366.2 332.4,363.3 333.0,363.0 333.7,364.2 334.3,368.9 335.0,370.0 335.6,368.2 336.2,368.2 336.8,365.0 337.4,365.4 338.0,364.0 338.7,365.8 339.3,368.7 340.0,371.0 340.7,369.3 341.3,367.4 342.0,368.0 342.8,370.3 343.6,373.0 344.4,377.0 345.0,374.2 345.7,374.8 346.4,371.7 347.0,371.0 347.6,370.3 348.2,371.7 348.8,370.8 349.4,370.8 350.0,369.0 350.6,368.5 351.2,364.1 351.8,362.8 352.4,360.1 353.0,360.0 353.6,360.2 354.2,359.8 354.8,358.3 355.4,358.1 356.0,358.0 356.6,358.2 357.2,357.9 357.8,355.9 358.4,357.6 359.0,356.0 359.7,357.5 360.3,360.5 361.0,362.0 361.7,355.9 362.3,350.6 363.0,347.0 363.7,350.5 364.3,351.8 365.0,353.0 365.7,353.1 366.3,350.0 367.0,349.3 367.7,349.1 368.3,348.6 369.0,349.0 369.6,348.0 370.2,348.1 370.9,346.6 371.5,347.3 372.1,348.2 372.8,346.3 373.4,348.5 374.0,347.0 374.7,347.6 375.3,348.4 376.0,347.1 376.7,348.1 377.3,349.3 378.0,349.0 378.7,345.1 379.3,340.5 380.0,339.0 380.7,340.5 381.3,340.7 382.0,340.0 382.6,338.2 383.2,336.4 383.8,338.3 384.4,336.4 385.0,335.0 385.6,333.6 386.2,334.5 386.8,334.2 387.4,336.8 388.0,336.0 388.5,339.0 389.0,344.0 389.6,345.6 390.2,345.1 390.9,342.9 391.5,345.2 392.1,344.2 392.8,345.6 393.4,346.1 394.0,345.0 394.7,343.2 395.3,341.5 396.0,343.6 396.7,340.7 397.3,341.5 398.0,339.0 398.7,340.0 399.3,340.5 400.0,341.2 400.7,340.8 401.3,340.5 402.0,341.0 402.6,339.6 403.2,342.2 403.9,341.5 404.5,342.0 405.1,343.8 405.8,341.2 406.4,343.7 407.0,343.0 407.6,342.2 408.2,345.3 408.8,346.5 409.4,345.3 410.0,347.0 410.7,347.2 411.3,348.7 412.0,347.5 412.7,347.2 413.3,346.1 414.0,347.0 414.6,346.2 415.2,348.1 415.8,349.1 416.4,349.1 417.0,351.0 417.7,348.7 418.3,346.4 419.0,346.0 419.6,347.9 420.2,349.0 420.8,348.7 421.4,349.9 422.0,352.0 422.6,351.7 423.2,351.0 423.8,352.4 424.4,349.9 425.0,349.3 425.6,351.0 426.2,347.9 426.8,349.0 427.4,347.8 428.0,348.0 428.7,349.8 429.3,349.5 430.0,350.9 430.7,349.5 431.3,351.9 432.0,352.0 432.8,356.4 433.6,360.0 434.3,358.3 435.0,357.8 435.6,356.4 436.3,352.2 437.0,352.0 437.7,352.2 438.3,353.5 439.0,355.0 439.6,354.5 440.2,354.6 440.8,356.0 441.4,356.3 442.0,358.0 442.7,357.2 443.3,354.8 444.0,352.1 444.7,351.4 445.3,350.4 446.0,349.0 446.6,348.1 447.2,347.0 447.8,346.3 448.4,345.6 449.0,347.0 449.6,349.0 450.2,348.4 450.9,346.3 451.5,348.8 452.1,350.0 452.8,348.7 453.4,347.3 454.0,349.0 454.7,351.0 455.3,352.8 456.0,353.9 456.7,357.2 457.3,357.2 458.0,361.0 458.6,364.0 459.3,364.4 459.9,365.8 460.5,368.4 461.2,368.8 461.8,368.8 462.5,370.3 463.1,371.3 463.7,372.4 464.4,376.5 465.0,377.0 465.7,377.4 466.3,374.6 467.0,373.4 467.7,374.2 468.3,374.1 469.0,372.0 469.6,372.5 470.2,368.8 470.9,370.0 471.5,369.2 472.1,367.9 472.8,365.4 473.4,363.9 474.0,364.0 474.7,365.7 475.3,364.4 476.0,365.0 476.7,366.2 477.3,366.0 478.0,367.0 478.6,369.2 479.2,368.1 479.8,368.3 480.4,371.2 481.0,372.5 481.6,374.2 482.2,374.7 482.8,376.5 483.4,377.6 484.0,377.0 484.7,375.6 485.3,374.3 486.0,373.0 486.7,370.6 487.3,369.9 488.0,369.8 488.7,366.8 489.3,367.8 490.0,366.0 490.7,365.8 491.3,367.8 492.0,369.0 492.7,375.0 493.3,376.2 494.0,382.0 494.8,382.8 495.6,387.0 496.4,385.4 497.2,383.2 498.0,383.0 498.6,384.8 499.2,383.2 499.8,387.2 500.4,388.3 501.0,388.0 501.5,391.5 502.0,393.0 502.8,392.2 503.6,392.0" fill="none" stroke="#2f6ff2" stroke-width="1" stroke-linejoin="round"/>
<polyline points="64.0,300.4 87.1,300.4 87.7,298.8 88.2,298.0 88.8,297.6 89.3,296.6 89.7,297.3 90.0,298.0 90.6,293.2 91.2,288.8 91.8,289.1 92.3,290.0 92.8,291.4 93.4,293.0 94.0,290.5 94.6,287.3 95.2,290.8 95.7,293.0 95.8,291.8 96.0,289.0 125.0,322.0 125.2,324.8 125.5,329.0 126.2,320.6 127.0,313.0 127.6,311.5 128.2,310.3 128.8,308.5 129.4,306.8 130.0,306.0 130.6,305.0 131.2,305.2 131.8,305.3 132.4,306.1 133.0,305.0 161.0,296.0 161.5,290.8 162.0,284.0 162.7,284.7 163.3,284.9 164.0,284.0 164.6,284.3 165.2,283.0 165.8,282.8 166.4,280.7 167.0,281.0 167.5,280.9 168.0,280.0 168.7,281.6 169.3,282.3 170.0,284.0 198.0,280.0 198.5,284.1 199.0,288.0 199.5,290.4 200.0,291.0 200.5,290.0 201.0,289.0 201.5,292.3 202.0,295.0 202.5,298.6 203.0,303.0 203.7,302.0 204.3,302.4 205.0,301.0 205.6,297.1 206.2,294.4 206.8,292.4 207.4,289.0 235.0,309.0 235.7,305.9 236.3,302.2 237.0,300.0 237.7,299.3 238.4,298.0 239.2,299.7 240.0,302.0 240.5,301.7 241.0,301.0 241.7,301.2 242.3,301.7 243.0,302.0 243.5,306.6 244.0,311.0 345.0,328.0 345.7,320.3 346.4,313.0 347.2,310.7 348.0,310.0 348.5,308.4 349.0,308.0 349.5,311.3 350.0,313.0 350.7,312.4 351.3,310.9 352.0,311.0 352.8,301.7 353.6,291.0 382.0,292.0 382.5,286.5 383.0,282.0 383.7,280.9 384.3,281.4 385.0,281.0 385.7,279.5 386.4,279.0 387.2,281.5 388.0,284.0 388.7,286.4 389.3,288.1 390.0,291.0 418.4,284.0 418.9,285.6 419.4,287.0 420.2,289.7 421.0,294.0 421.7,292.7 422.3,291.5 423.0,290.0 423.7,290.2 424.3,291.8 425.0,293.0 425.6,291.7 426.2,292.1 426.8,292.5 427.4,291.5 428.0,291.0 456.0,312.0 456.7,311.8 457.3,311.2 458.0,310.0 458.7,309.9 459.3,312.3 460.0,312.0 460.7,312.4 461.3,311.2 462.0,312.0 462.6,313.7 463.2,313.8 463.8,314.3 464.4,316.9 465.0,317.0 492.0,306.0 492.5,309.1 493.0,312.0 493.5,317.0 494.0,321.0 494.7,321.3 495.3,323.6 496.0,324.0 496.7,323.8 497.3,324.8 498.0,326.0 498.7,325.1 499.3,323.7 500.0,324.0 500.7,324.9 501.3,324.8 502.0,326.0" fill="none" stroke="#21c45d" stroke-width="1" stroke-linejoin="round"/>
<polyline points="87.1,300.4 87.8,294.6 88.6,289.6 89.1,297.1 89.6,303.7 90.0,297.7 90.4,292.0 91.0,295.3 91.6,297.0 92.2,292.7 92.7,288.0 93.2,288.2 93.8,287.0 94.3,285.2 94.9,283.2 95.3,287.4 95.7,290.0 125.0,314.0 125.2,315.7 125.5,316.0 125.8,298.3 126.0,282.0 126.7,280.5 127.3,277.7 128.0,276.0 128.7,271.2 129.3,265.7 130.0,260.0 130.5,261.2 131.0,261.0 131.7,262.6 132.3,265.4 133.0,268.0 161.0,250.0 161.5,248.5 162.0,246.0 162.7,245.9 163.3,244.4 164.0,243.0 164.7,239.8 165.3,238.5 166.0,236.0 166.6,234.2 167.2,234.1 167.8,233.6 168.4,231.2 169.0,231.0 169.5,235.4 170.0,238.0 198.0,197.0 198.7,203.4 199.3,208.5 200.0,215.0 200.7,211.4 201.3,208.9 202.0,206.0 202.5,213.2 203.0,219.0 203.7,215.5 204.3,210.9 205.0,208.0 205.7,206.0 206.3,205.2 207.0,205.0 235.0,221.0 235.5,212.6 236.0,203.0 236.7,200.7 237.3,199.8 238.0,198.0 238.5,201.1 239.0,205.0 239.7,205.4 240.3,204.8 241.0,205.0 241.7,200.0 242.3,197.1 243.0,192.0 243.7,194.7 244.3,197.7 245.0,200.0 344.0,215.0 344.8,219.6 345.6,223.0 346.3,216.4 347.0,208.0 347.7,209.5 348.4,213.0 348.7,209.7 349.0,207.0 349.5,212.8 350.0,220.0 350.8,219.5 351.6,219.0 352.0,215.2 352.4,210.0 353.0,206.1 353.6,201.0 382.0,240.0 382.7,237.1 383.3,235.4 384.0,234.0 384.8,230.6 385.6,226.0 386.3,227.7 386.9,228.5 387.6,230.0 388.3,235.5 389.0,241.0 418.0,218.0 418.7,222.0 419.3,228.0 420.0,232.0 420.8,240.3 421.6,249.0 422.3,247.2 423.0,244.0 423.7,245.2 424.3,245.2 425.0,247.0 425.7,245.3 426.3,243.8 427.0,243.0 427.5,241.3 428.0,238.0 456.0,230.0 456.5,228.2 457.0,226.0 457.5,229.1 458.0,234.0 458.7,235.7 459.3,238.4 460.0,241.0 460.7,242.6 461.3,244.5 462.0,246.0 462.6,246.6 463.2,247.3 463.8,247.4 464.4,249.4 465.0,250.0 493.0,247.0 493.5,254.2 494.0,262.0 494.5,266.0 495.0,272.0 495.8,269.4 496.6,267.0 497.3,266.0 498.0,263.0 498.7,265.1 499.4,269.0 500.2,266.3 501.0,265.0 501.5,267.8 502.0,270.0 502.2,267.5 502.4,266.0" fill="none" stroke="#ff9800" stroke-width="1" stroke-linejoin="round"/>
<rect x="322.5" y="38" width="188.5" height="376.6" fill="none" stroke="#f23645" stroke-width="1.9"/>
<text x="566.2" y="420.73" font-size="6.5" fill="#131722" stroke="#131722" stroke-width="0.04" textLength="20.7" lengthAdjust="spacingAndGlyphs">−8.00%</text>
<text x="566.2" y="406.00" font-size="6.5" fill="#131722" stroke="#131722" stroke-width="0.04" textLength="20.7" lengthAdjust="spacingAndGlyphs">−7.00%</text>
<text x="566.2" y="391.26" font-size="6.5" fill="#131722" stroke="#131722" stroke-width="0.04" textLength="20.7" lengthAdjust="spacingAndGlyphs">−6.00%</text>
<text x="566.2" y="376.53" font-size="6.5" fill="#131722" stroke="#131722" stroke-width="0.04" textLength="20.7" lengthAdjust="spacingAndGlyphs">−5.00%</text>
<text x="566.2" y="361.79" font-size="6.5" fill="#131722" stroke="#131722" stroke-width="0.04" textLength="20.7" lengthAdjust="spacingAndGlyphs">−4.00%</text>
<text x="566.2" y="347.06" font-size="6.5" fill="#131722" stroke="#131722" stroke-width="0.04" textLength="20.7" lengthAdjust="spacingAndGlyphs">−3.00%</text>
<text x="566.2" y="332.32" font-size="6.5" fill="#131722" stroke="#131722" stroke-width="0.04" textLength="20.7" lengthAdjust="spacingAndGlyphs">−2.00%</text>
<text x="566.2" y="317.59" font-size="6.5" fill="#131722" stroke="#131722" stroke-width="0.04" textLength="20.7" lengthAdjust="spacingAndGlyphs">−1.00%</text>
<text x="566.2" y="302.85" font-size="6.5" fill="#131722" stroke="#131722" stroke-width="0.04" textLength="17.0" lengthAdjust="spacingAndGlyphs">0.00%</text>
<text x="566.2" y="288.12" font-size="6.5" fill="#131722" stroke="#131722" stroke-width="0.04" textLength="17.0" lengthAdjust="spacingAndGlyphs">1.00%</text>
<text x="566.2" y="273.38" font-size="6.5" fill="#131722" stroke="#131722" stroke-width="0.04" textLength="17.0" lengthAdjust="spacingAndGlyphs">2.00%</text>
<text x="566.2" y="258.65" font-size="6.5" fill="#131722" stroke="#131722" stroke-width="0.04" textLength="17.0" lengthAdjust="spacingAndGlyphs">3.00%</text>
<text x="566.2" y="243.91" font-size="6.5" fill="#131722" stroke="#131722" stroke-width="0.04" textLength="17.0" lengthAdjust="spacingAndGlyphs">4.00%</text>
<text x="566.2" y="229.17" font-size="6.5" fill="#131722" stroke="#131722" stroke-width="0.04" textLength="17.0" lengthAdjust="spacingAndGlyphs">5.00%</text>
<text x="566.2" y="214.44" font-size="6.5" fill="#131722" stroke="#131722" stroke-width="0.04" textLength="17.0" lengthAdjust="spacingAndGlyphs">6.00%</text>
<text x="566.2" y="199.71" font-size="6.5" fill="#131722" stroke="#131722" stroke-width="0.04" textLength="17.0" lengthAdjust="spacingAndGlyphs">7.00%</text>
<text x="566.2" y="184.97" font-size="6.5" fill="#131722" stroke="#131722" stroke-width="0.04" textLength="17.0" lengthAdjust="spacingAndGlyphs">8.00%</text>
<text x="566.2" y="170.23" font-size="6.5" fill="#131722" stroke="#131722" stroke-width="0.04" textLength="17.0" lengthAdjust="spacingAndGlyphs">9.00%</text>
<text x="566.2" y="155.50" font-size="6.5" fill="#131722" stroke="#131722" stroke-width="0.04" textLength="20.4" lengthAdjust="spacingAndGlyphs">10.00%</text>
<text x="566.2" y="140.77" font-size="6.5" fill="#131722" stroke="#131722" stroke-width="0.04" textLength="20.4" lengthAdjust="spacingAndGlyphs">11.00%</text>
<text x="566.2" y="126.03" font-size="6.5" fill="#131722" stroke="#131722" stroke-width="0.04" textLength="20.4" lengthAdjust="spacingAndGlyphs">12.00%</text>
<text x="566.2" y="111.29" font-size="6.5" fill="#131722" stroke="#131722" stroke-width="0.04" textLength="20.4" lengthAdjust="spacingAndGlyphs">13.00%</text>
<text x="566.2" y="96.56" font-size="6.5" fill="#131722" stroke="#131722" stroke-width="0.04" textLength="20.4" lengthAdjust="spacingAndGlyphs">14.00%</text>
<text x="566.2" y="81.83" font-size="6.5" fill="#131722" stroke="#131722" stroke-width="0.04" textLength="20.4" lengthAdjust="spacingAndGlyphs">15.00%</text>
<text x="566.2" y="67.09" font-size="6.5" fill="#131722" stroke="#131722" stroke-width="0.04" textLength="20.4" lengthAdjust="spacingAndGlyphs">16.00%</text>
<text x="566.2" y="52.35" font-size="6.5" fill="#131722" stroke="#131722" stroke-width="0.04" textLength="20.4" lengthAdjust="spacingAndGlyphs">17.00%</text>
<text x="566.2" y="37.62" font-size="6.5" fill="#131722" stroke="#131722" stroke-width="0.04" textLength="20.4" lengthAdjust="spacingAndGlyphs">18.00%</text>
<rect x="563.5" y="14.5" width="30" height="12" rx="2" fill="#fff" stroke="#eef0f4" stroke-width="0.8"/>
<text x="567.8" y="22.9" font-size="6" fill="#131722" textLength="11.6" lengthAdjust="spacingAndGlyphs">USD</text>
<text x="27.80" y="436.8" font-size="6" fill="#131722" stroke="#131722" stroke-width="0.03" text-anchor="middle">Mar</text>
<text x="64.80" y="436.8" font-size="6" fill="#131722" stroke="#131722" stroke-width="0.03" text-anchor="middle">2</text>
<text x="101.80" y="436.8" font-size="6" fill="#131722" stroke="#131722" stroke-width="0.03" text-anchor="middle">3</text>
<text x="138.80" y="436.8" font-size="6" fill="#131722" stroke="#131722" stroke-width="0.03" text-anchor="middle">4</text>
<text x="175.80" y="436.8" font-size="6" fill="#131722" stroke="#131722" stroke-width="0.03" text-anchor="middle">5</text>
<text x="212.80" y="436.8" font-size="6" fill="#131722" stroke="#131722" stroke-width="0.03" text-anchor="middle">6</text>
<text x="249.80" y="436.8" font-size="6" fill="#131722" stroke="#131722" stroke-width="0.03" text-anchor="middle">7</text>
<text x="286.80" y="436.8" font-size="6" fill="#131722" stroke="#131722" stroke-width="0.03" text-anchor="middle">8</text>
<text x="323.80" y="436.8" font-size="6" fill="#131722" stroke="#131722" stroke-width="0.03" text-anchor="middle">9</text>
<text x="360.80" y="436.8" font-size="6" fill="#131722" stroke="#131722" stroke-width="0.03" text-anchor="middle">10</text>
<text x="397.80" y="436.8" font-size="6" fill="#131722" stroke="#131722" stroke-width="0.03" text-anchor="middle">11</text>
<text x="434.80" y="436.8" font-size="6" fill="#131722" stroke="#131722" stroke-width="0.03" text-anchor="middle">12</text>
<text x="471.80" y="436.8" font-size="6" fill="#131722" stroke="#131722" stroke-width="0.03" text-anchor="middle">13</text>
<text x="508.80" y="436.8" font-size="6" fill="#131722" stroke="#131722" stroke-width="0.03" text-anchor="middle">14</text>
<text x="545.80" y="436.8" font-size="6" fill="#131722" stroke="#131722" stroke-width="0.03" text-anchor="middle">15</text>
<rect x="535" y="102" width="26.2" height="7.6" rx="1" fill="#089981"/>
<rect x="562" y="102" width="31" height="14.1" rx="1" fill="#089981"/>
<text x="536.80" y="107.90" font-size="6.0" fill="#ffffff" stroke="#ffffff" stroke-width="0.08" textLength="22.4" lengthAdjust="spacingAndGlyphs">BTCUSD</text>
<text x="566.20" y="107.90" font-size="6.0" fill="#ffffff" stroke="#ffffff" stroke-width="0.08" textLength="23.8" lengthAdjust="spacingAndGlyphs">+13.23%</text>
<text x="566.00" y="114.60" font-size="6.0" fill="#cdeee6" stroke="#cdeee6" stroke-width="0.08" textLength="15.3" lengthAdjust="spacingAndGlyphs">11:02</text>
<rect x="547.8" y="261.80" width="13.40" height="7.8" rx="1" fill="#ff9800"/>
<rect x="562" y="261.80" width="27.2" height="7.8" rx="1" fill="#ff9800"/>
<text x="550.60" y="267.80" font-size="6.0" fill="#131722" stroke="#131722" stroke-width="0.08" textLength="8.7" lengthAdjust="spacingAndGlyphs">IGV</text>
<text x="566.10" y="267.80" font-size="6.0" fill="#131722" stroke="#131722" stroke-width="0.08" textLength="19.6" lengthAdjust="spacingAndGlyphs">+2.35%</text>
<rect x="544.9" y="322.00" width="16.30" height="7.8" rx="1" fill="#21c45d"/>
<rect x="562" y="322.00" width="27.2" height="7.8" rx="1" fill="#21c45d"/>
<text x="547.25" y="328.00" font-size="6.0" fill="#ffffff" stroke="#ffffff" stroke-width="0.08" textLength="12.05" lengthAdjust="spacingAndGlyphs">QQQ</text>
<text x="566.10" y="328.00" font-size="6.0" fill="#ffffff" stroke="#ffffff" stroke-width="0.08" textLength="20.6" lengthAdjust="spacingAndGlyphs">−1.73%</text>
<rect x="534.6" y="388.30" width="26.60" height="7.8" rx="1" fill="#2f6ff2"/>
<rect x="562" y="388.30" width="27.2" height="7.8" rx="1" fill="#2f6ff2"/>
<text x="536.30" y="394.30" font-size="6.0" fill="#ffffff" stroke="#ffffff" stroke-width="0.08" textLength="23.0" lengthAdjust="spacingAndGlyphs">XAUUSD</text>
<text x="566.10" y="394.30" font-size="6.0" fill="#ffffff" stroke="#ffffff" stroke-width="0.08" textLength="20.5" lengthAdjust="spacingAndGlyphs">−6.24%</text>
<text x="4.8" y="10.0" font-size="6.5" fill="#131722" stroke="#131722" stroke-width="0.08" textLength="180.8" lengthAdjust="spacingAndGlyphs">james30478 created with TradingView.com, Mar 15, 2026 10:18 UTC</text>
<text x="9" y="22.6" font-size="6.3" fill="#131722" stroke="#131722" stroke-width="0.08" textLength="91.8" lengthAdjust="spacingAndGlyphs">Bitcoin / U.S. Dollar · 30 · Coinbase</text>
<text x="104" y="22.6" font-size="6.3" fill="#131722" stroke="#131722" stroke-width="0.08" textLength="4.4" lengthAdjust="spacingAndGlyphs">O</text>
<text x="108.6" y="22.6" font-size="6.3" fill="#089981" stroke="#089981" stroke-width="0.08" textLength="24.800000000000004" lengthAdjust="spacingAndGlyphs">71,798.87</text>
<text x="137.4" y="22.6" font-size="6.3" fill="#131722" stroke="#131722" stroke-width="0.08" textLength="4.4" lengthAdjust="spacingAndGlyphs">H</text>
<text x="142.0" y="22.6" font-size="6.3" fill="#089981" stroke="#089981" stroke-width="0.08" textLength="24.999999999999993" lengthAdjust="spacingAndGlyphs">71,869.64</text>
<text x="171" y="22.6" font-size="6.3" fill="#131722" stroke="#131722" stroke-width="0.08" textLength="4.4" lengthAdjust="spacingAndGlyphs">L</text>
<text x="175.6" y="22.6" font-size="6.3" fill="#089981" stroke="#089981" stroke-width="0.08" textLength="23.4" lengthAdjust="spacingAndGlyphs">71,726.59</text>
<text x="203" y="22.6" font-size="6.3" fill="#131722" stroke="#131722" stroke-width="0.08" textLength="4.4" lengthAdjust="spacingAndGlyphs">C</text>
<text x="207.6" y="22.6" font-size="6.3" fill="#089981" stroke="#089981" stroke-width="0.08" textLength="24.9" lengthAdjust="spacingAndGlyphs">71,869.64</text>
<text x="236" y="22.6" font-size="6.3" fill="#089981" stroke="#089981" stroke-width="0.08" textLength="43.8" lengthAdjust="spacingAndGlyphs">+70.76 (+0.10%)</text>
<text x="8.8" y="30.5" font-size="6.3" fill="#131722" stroke="#131722" stroke-width="0.08" textLength="60.9" lengthAdjust="spacingAndGlyphs">XAUUSD · Pepperstone</text>
<text x="73.3" y="30.5" font-size="6.3" fill="#2f6ff2" stroke="#2f6ff2" stroke-width="0.08" textLength="20.9" lengthAdjust="spacingAndGlyphs">−6.24%</text>
<text x="8.8" y="38.7" font-size="6.3" fill="#131722" stroke="#131722" stroke-width="0.08" textLength="40.9" lengthAdjust="spacingAndGlyphs">QQQ · NASDAQ</text>
<text x="53" y="38.7" font-size="6.3" fill="#21c45d" stroke="#21c45d" stroke-width="0.08" textLength="19" lengthAdjust="spacingAndGlyphs">−1.73%</text>
<text x="8.8" y="46.7" font-size="6.3" fill="#131722" stroke="#131722" stroke-width="0.08" textLength="29.2" lengthAdjust="spacingAndGlyphs">IGV · CBOE</text>
<text x="41.3" y="46.7" font-size="6.3" fill="#ff9800" stroke="#ff9800" stroke-width="0.08" textLength="16.5" lengthAdjust="spacingAndGlyphs">2.35%</text>
<path d="M561.6 417.4 Q557.2 418.2 556.8 421.4" fill="none" stroke="#a32fc8" stroke-width="0.75" stroke-dasharray="1.1,0.55"/>
<path d="M558.2 425.2 Q559.6 426.4 561.6 426.3" fill="none" stroke="#a32fc8" stroke-width="0.75" stroke-dasharray="1.1,0.55"/>
<path d="M560.6 420.6 q1 0.4 0.2 1.2 q-0.9 0.6 0.2 1.3 q0.6 0.6 -0.4 1.1" fill="none" stroke="#a32fc8" stroke-width="0.8"/>
<path d="M556.2 421.6 Q556.6 423 558.2 423.4 Q556.6 423.8 556.2 425.2 Q555.8 423.8 554.2 423.4 Q555.8 423 556.2 421.6z" fill="#7a3cf5"/>
<g fill="#131722"><path d="M5.5 451.2h5.6v6.9h-2.9v-4.1h-2.7z"/><circle cx="12.9" cy="452.6" r="1.4"/><path d="M15.3 451.2h4.2l-3.3 6.9h-2.4z"/></g>
<text x="23.2" y="457.8" font-size="9.6" fill="#131722" stroke="#131722" stroke-width="0.45" textLength="55.3" lengthAdjust="spacingAndGlyphs">TradingView</text>
</svg></body></html>
